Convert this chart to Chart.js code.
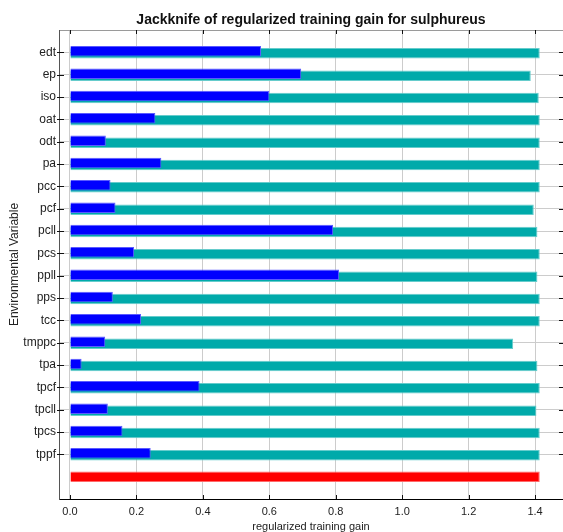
<!DOCTYPE html>
<html>
<head>
<meta charset="utf-8">
<script src="https://cdn.jsdelivr.net/npm/chart.js@4/dist/chart.umd.min.js"></script>
<style>
html,body{margin:0;padding:0;background:#fff;}
#wrap{width:563px;height:532px;}
</style>
</head>
<body>
<div id="wrap"><canvas id="c" width="563" height="532"></canvas></div>
<script>
// ---- data ----
const variables = ['edt','ep','iso','oat','odt','pa','pcc','pcf','pcll','pcs','ppll','pps','tcc','tmppc','tpa','tpcf','tpcll','tpcs','tppf'];
const withoutVariable = [1.414,1.387,1.411,1.414,1.414,1.414,1.414,1.396,1.407,1.414,1.407,1.414,1.414,1.334,1.407,1.414,1.404,1.414,1.414];
const withOnlyVariable = [0.575,0.696,0.600,0.257,0.108,0.275,0.122,0.137,0.792,0.193,0.810,0.129,0.214,0.106,0.035,0.390,0.114,0.158,0.243];
const withAllVariables = [1.414];
const xTickValues = [0, 0.2, 0.4, 0.6, 0.8, 1.0, 1.2, 1.4];

const titleText = 'Jackknife of regularized training gain for sulphureus';
const xTitle = 'regularized training gain';
const yTitle = 'Environmental Variable';

// ---- build library data ----
const allRow = variables.length; // row index of the "all variables" bar
const blueData = withOnlyVariable.map((v, i) => ({x: v, y: i}));
const tealData = withoutVariable.map((v, i) => ({x: v, y: i}));
const redData = withAllVariables.map(v => ({x: v, y: allRow}));

Chart.defaults.font.family = '"Liberation Sans", Arial, sans-serif';
Chart.defaults.color = '#222';

const X_MIN = -0.033, X_MAX = 1.484;

const innerTicks = {
  id: 'innerTicks',
  afterDraw(chart) {
    const {ctx, chartArea: a, scales: {x, y}} = chart;
    ctx.save();
    ctx.strokeStyle = '#111';
    ctx.lineWidth = 1;
    ctx.beginPath();
    x.ticks.forEach(t => {
      const px = Math.round(x.getPixelForValue(t.value)) + 0.5;
      ctx.moveTo(px, a.top); ctx.lineTo(px, a.top + 4);
      ctx.moveTo(px, a.bottom); ctx.lineTo(px, a.bottom - 4);
    });
    y.ticks.forEach(t => {
      const py = Math.round(y.getPixelForValue(t.value)) + 0.5;
      ctx.moveTo(a.left - 2, py); ctx.lineTo(a.left + 5, py);
      ctx.moveTo(a.right - 4, py); ctx.lineTo(a.right, py);
    });
    ctx.stroke();
    ctx.restore();
  }
};

new Chart(document.getElementById('c'), {
  type: 'bar',
  data: {
    datasets: [
      {
        label: 'With only variable',
        data: blueData,
        backgroundColor: '#0000ff',
        borderColor: '#5a5aff',
        borderWidth: 1,
        borderSkipped: 'start',
        grouped: true,
        categoryPercentage: 4 / 22.33,
        barPercentage: 5.25
      },
      {
        label: 'Without variable',
        data: tealData,
        backgroundColor: '#00aaaa',
        borderColor: '#66cccc',
        borderWidth: 1,
        borderSkipped: 'start',
        grouped: true,
        categoryPercentage: 4 / 22.33,
        barPercentage: 5.25
      },
      {
        label: 'With all variables',
        data: redData,
        backgroundColor: '#ff0000',
        borderColor: '#ff6a6a',
        borderWidth: 1,
        borderSkipped: 'start',
        grouped: false,
        categoryPercentage: 1,
        barPercentage: 10.5 / 22.33
      }
    ]
  },
  options: {
    indexAxis: 'y',
    responsive: false,
    animation: false,
    devicePixelRatio: 1,
    layout: {padding: 0},
    plugins: {
      legend: {display: false},
      tooltip: {enabled: false},
      title: {display: false}
    },
    scales: {
      x: {
        type: 'linear',
        position: 'bottom',
        min: X_MIN,
        max: X_MAX,
        afterBuildTicks: s => { s.ticks = xTickValues.map(v => ({value: v})); },
        afterFit: s => { s.height = 33; },
        ticks: {
          callback: v => Number(v).toFixed(1),
          font: {size: 11},
          color: '#222',
          padding: 6
        },
        grid: {color: '#cccccc', lineWidth: 1, drawTicks: false},
        border: {display: true, color: '#000', width: 1},
        title: {display: true, text: xTitle, font: {size: 11}, color: '#222', padding: {top: 0, bottom: -1.5}}
      },
      xTop: {
        type: 'linear',
        position: 'top',
        min: X_MIN,
        max: X_MAX,
        afterFit: s => { s.height = 30; },
        ticks: {display: false},
        grid: {display: true, drawOnChartArea: false, drawTicks: false, color: 'rgba(0,0,0,0)'},
        border: {display: true, color: '#9a9a9a', width: 1},
        title: {display: true, text: titleText, font: {size: 14, weight: 'bold'}, color: '#111', padding: {top: 11.5, bottom: 0}}
      },
      y: {
        type: 'linear',
        position: 'left',
        reverse: true,
        offset: false,
        min: -1,
        max: allRow + 1,
        afterBuildTicks: s => { s.ticks = variables.map((_, i) => ({value: i})); },
        afterFit: s => { s.width = 59; },
        ticks: {
          autoSkip: false,
          callback: v => variables[v] !== undefined ? variables[v] : '',
          font: {size: 12},
          color: '#222',
          padding: 3
        },
        grid: {offset: false, color: '#cccccc', lineWidth: 1, drawTicks: false},
        border: {display: true, color: '#555', width: 1},
        title: {display: true, text: yTitle, font: {size: 12}, color: '#222', padding: {top: 7, bottom: 0}}
      }
    }
  },
  plugins: [innerTicks]
});
</script>
</body>
</html>
